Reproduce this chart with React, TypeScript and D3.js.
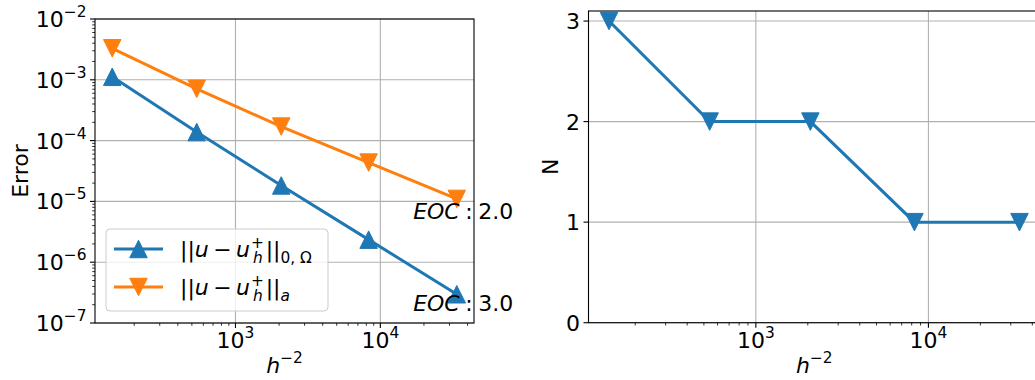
import * as d3 from "d3";

// mesh parameter h^-2 for each refinement level
const H2 = [141, 540, 2070, 8300, 33700];
// errors
const ERR_L2 = [1.12e-3, 1.38e-4, 1.83e-5, 2.35e-6, 2.97e-7];
const ERR_A = [3.3e-3, 7.1e-4, 1.7e-4, 4.35e-5, 1.1e-5];
// number of iterations N
const N_ITER = [3, 2, 2, 1, 1];
// EOC annotations (text, data position)
const EOC_TEXT = ["2.0", "3.0"];
const EOC_POS: [number, number][] = [
  [16850, 5.1e-6],
  [16850, 1.6e-7],
];
const ERR_EXPONENTS = [-7, -6, -5, -4, -3, -2];
const H_EXPONENTS = [3, 4];
const N_TICKS = [0, 1, 2, 3];

const BLUE = "#1f77b4";
const ORANGE = "#ff7f0e";
const GRID = "#b0b0b0";
const FONT = "DejaVu Sans, sans-serif";
const FS = 22;
const FS_SMALL = 15.4;
const MS = 8.75; // half marker size

function tri(cx: number, cy: number, up: boolean, s = MS) {
  const d = up ? 1 : -1;
  return `M${cx},${cy - d * s}L${cx - s},${cy + d * s}L${cx + s},${cy + d * s}Z`;
}

function logDomain(vals: number[]) {
  const lo = Math.log10(d3.min(vals)!);
  const hi = Math.log10(d3.max(vals)!);
  const pad = 0.05 * (hi - lo);
  return [10 ** (lo - pad), 10 ** (hi + pad)];
}

function minorLog(domain: number[]) {
  const out: number[] = [];
  const e0 = Math.floor(Math.log10(domain[0]));
  const e1 = Math.ceil(Math.log10(domain[1]));
  for (let e = e0; e <= e1; e++) {
    for (let m = 2; m <= 9; m++) {
      const v = m * 10 ** e;
      if (v >= domain[0] && v <= domain[1]) out.push(v);
    }
  }
  return out;
}

function Pow({ x, y, exp, anchor }: { x: number; y: number; exp: string; anchor: string }) {
  return (
    <text x={x} y={y} textAnchor={anchor} fontSize={FS} fontFamily={FONT} fill="#000">
      <tspan>10</tspan>
      <tspan fontSize={FS_SMALL} dy={-10}>
        {exp}
      </tspan>
    </text>
  );
}

export default function App() {
  const xDom = logDomain(H2);

  // left panel
  const L = { left: 95, right: 474, top: 19, bottom: 323 };
  const xL = d3.scaleLog().domain(xDom).range([L.left, L.right]);
  const yL = d3.scaleLog().domain([1e-7, 1e-2]).range([L.bottom, L.top]);

  // right panel
  const R = { left: 588.5, right: 1040, top: 11, bottom: 322.7 };
  const xR = d3.scaleLog().domain(xDom).range([R.left, R.right]);
  const yR = d3.scaleLinear().domain([0, 3.1]).range([R.bottom, R.top]);

  const lineL2 = d3
    .line<number>()
    .x((_, i) => xL(H2[i]))
    .y((d) => yL(d));
  const lineN = d3
    .line<number>()
    .x((_, i) => xR(H2[i]))
    .y((d) => yR(d));

  const xMinor = minorLog(xDom);
  const yMinor = minorLog([1e-7, 1e-2]);

  const legendItems = [
    { color: BLUE, up: true, sub: "0, \u03A9" },
    { color: ORANGE, up: false, sub: "a" },
  ];

  return (
    <svg
      width={1035}
      height={380}
      style={{ position: "absolute", left: 0, top: 0, background: "#fff" }}
    >
      {/* ---------- left panel ---------- */}
      <g>
        {H_EXPONENTS.map((e) => (
          <line key={"gx" + e} x1={xL(10 ** e)} x2={xL(10 ** e)} y1={L.top} y2={L.bottom} stroke={GRID} strokeWidth={1.1} />
        ))}
        {ERR_EXPONENTS.map((e) => (
          <line key={"gy" + e} x1={L.left} x2={L.right} y1={yL(10 ** e)} y2={yL(10 ** e)} stroke={GRID} strokeWidth={1.1} />
        ))}

        <path d={lineL2(ERR_L2)!} fill="none" stroke={BLUE} strokeWidth={3} />
        {ERR_L2.map((v, i) => (
          <path key={"mb" + i} d={tri(xL(H2[i]), yL(v), true)} fill={BLUE} stroke={BLUE} strokeWidth={1} />
        ))}
        <path d={lineL2(ERR_A)!} fill="none" stroke={ORANGE} strokeWidth={3} />
        {ERR_A.map((v, i) => (
          <path key={"mo" + i} d={tri(xL(H2[i]), yL(v), false)} fill={ORANGE} stroke={ORANGE} strokeWidth={1} />
        ))}

        {/* EOC annotations */}
        {EOC_TEXT.map((t, i) => (
          <text key={"eoc" + i} x={xL(EOC_POS[i][0])} y={yL(EOC_POS[i][1])} fontSize={FS} fontFamily={FONT} fill="#000">
            <tspan fontStyle="italic">EOC</tspan>
            <tspan>{"\u2005:\u2005" + t}</tspan>
          </text>
        ))}

        {/* spines */}
        <rect x={L.left} y={L.top} width={L.right - L.left} height={L.bottom - L.top} fill="none" stroke="#000" strokeWidth={1.1} />

        {/* ticks */}
        {H_EXPONENTS.map((e) => (
          <g key={"tx" + e}>
            <line x1={xL(10 ** e)} x2={xL(10 ** e)} y1={L.bottom} y2={L.bottom + 5} stroke="#000" strokeWidth={1.1} />
            <Pow x={xL(10 ** e)} y={L.bottom + 25} exp={String(e)} anchor="middle" />
          </g>
        ))}
        {xMinor.map((v, i) => (
          <line key={"mx" + i} x1={xL(v)} x2={xL(v)} y1={L.bottom} y2={L.bottom + 2.8} stroke="#000" strokeWidth={0.8} />
        ))}
        {ERR_EXPONENTS.map((e) => (
          <g key={"ty" + e}>
            <line x1={L.left - 5} x2={L.left} y1={yL(10 ** e)} y2={yL(10 ** e)} stroke="#000" strokeWidth={1.1} />
            <Pow x={L.left - 8.5} y={yL(10 ** e) + 8} exp={"\u2212" + Math.abs(e)} anchor="end" />
          </g>
        ))}
        {yMinor.map((v, i) => (
          <line key={"my" + i} x1={L.left - 2.8} x2={L.left} y1={yL(v)} y2={yL(v)} stroke="#000" strokeWidth={0.8} />
        ))}

        {/* axis labels */}
        <text x={(L.left + L.right) / 2} y={373} textAnchor="middle" fontSize={FS} fontFamily={FONT}>
          <tspan fontStyle="italic">h</tspan>
          <tspan fontSize={FS_SMALL} dy={-10}>{"\u22122"}</tspan>
        </text>
        <text transform={`translate(28,${(L.top + L.bottom) / 2}) rotate(-90)`} textAnchor="middle" fontSize={FS} fontFamily={FONT}>
          Error
        </text>

        {/* legend */}
        <rect x={106} y={229} width={222} height={82} rx={4} fill="#fff" fillOpacity={0.8} stroke="#cccccc" strokeWidth={1} />
        {legendItems.map((it, i) => {
          const cy = 249 + i * 38;
          return (
            <g key={"lg" + i}>
              <line x1={114} x2={163} y1={cy} y2={cy} stroke={it.color} strokeWidth={3} />
              <path d={tri(138.5, cy, it.up)} fill={it.color} stroke={it.color} strokeWidth={1} />
              <text x={180} y={cy + 7.5} fontSize={FS} fontFamily={FONT} fill="#000">
                <tspan>||</tspan>
                <tspan fontStyle="italic">u</tspan>
                <tspan>{"\u2009\u2212\u2009"}</tspan>
                <tspan fontStyle="italic">u</tspan>
                <tspan fontSize={FS_SMALL} dx={1} dy={-9}>+</tspan>
                <tspan fontSize={FS_SMALL} fontStyle="italic" dx={-11} dy={15}>h</tspan>
                <tspan dx={3} dy={-6}>||</tspan>
                <tspan fontSize={FS_SMALL} fontStyle={it.sub === "a" ? "italic" : "normal"} dy={6}>
                  {it.sub}
                </tspan>
              </text>
            </g>
          );
        })}
      </g>

      {/* ---------- right panel ---------- */}
      <g>
        {H_EXPONENTS.map((e) => (
          <line key={"rgx" + e} x1={xR(10 ** e)} x2={xR(10 ** e)} y1={R.top} y2={R.bottom} stroke={GRID} strokeWidth={1.1} />
        ))}
        {N_TICKS.map((t) => (
          <line key={"rgy" + t} x1={R.left} x2={R.right} y1={yR(t)} y2={yR(t)} stroke={GRID} strokeWidth={1.1} />
        ))}

        <path d={lineN(N_ITER)!} fill="none" stroke={BLUE} strokeWidth={3} />
        {N_ITER.map((v, i) => (
          <path key={"mn" + i} d={tri(xR(H2[i]), yR(v), false)} fill={BLUE} stroke={BLUE} strokeWidth={1} />
        ))}

        <rect x={R.left} y={R.top} width={R.right - R.left} height={R.bottom - R.top} fill="none" stroke="#000" strokeWidth={1.1} />

        {H_EXPONENTS.map((e) => (
          <g key={"rtx" + e}>
            <line x1={xR(10 ** e)} x2={xR(10 ** e)} y1={R.bottom} y2={R.bottom + 5} stroke="#000" strokeWidth={1.1} />
            <Pow x={xR(10 ** e)} y={R.bottom + 25} exp={String(e)} anchor="middle" />
          </g>
        ))}
        {xMinor.map((v, i) => (
          <line key={"rmx" + i} x1={xR(v)} x2={xR(v)} y1={R.bottom} y2={R.bottom + 2.8} stroke="#000" strokeWidth={0.8} />
        ))}
        {N_TICKS.map((t) => (
          <g key={"rty" + t}>
            <line x1={R.left - 5} x2={R.left} y1={yR(t)} y2={yR(t)} stroke="#000" strokeWidth={1.1} />
            <text x={R.left - 8.5} y={yR(t) + 8} textAnchor="end" fontSize={FS} fontFamily={FONT}>
              {t}
            </text>
          </g>
        ))}

        <text x={(R.left + R.right) / 2} y={373} textAnchor="middle" fontSize={FS} fontFamily={FONT}>
          <tspan fontStyle="italic">h</tspan>
          <tspan fontSize={FS_SMALL} dy={-10}>{"\u22122"}</tspan>
        </text>
        <text transform={`translate(558,${(R.top + R.bottom) / 2}) rotate(-90)`} textAnchor="middle" fontSize={FS} fontFamily={FONT}>
          N
        </text>
      </g>
    </svg>
  );
}
